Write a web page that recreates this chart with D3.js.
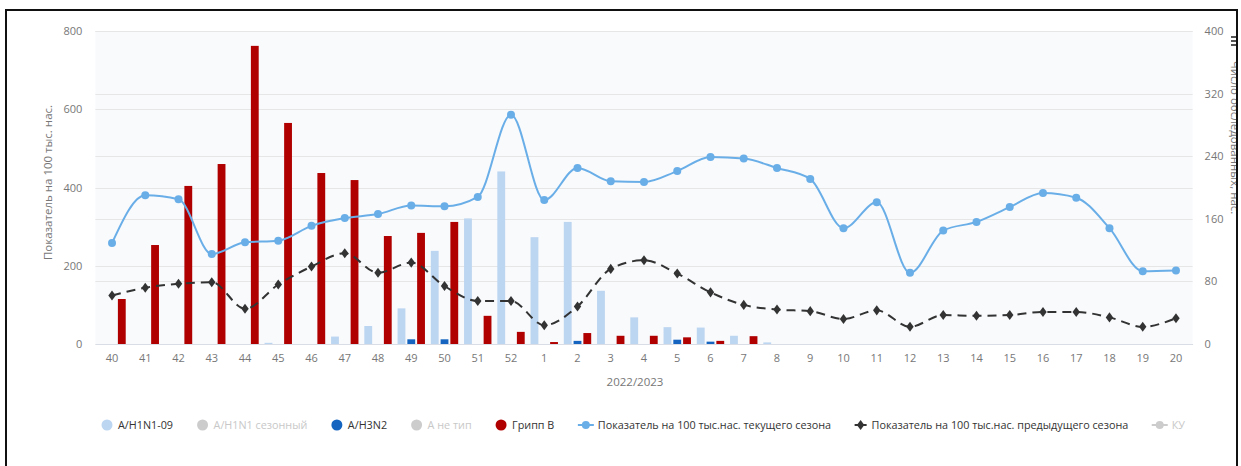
<!DOCTYPE html>
<html><head><meta charset="utf-8">
<script src="https://cdn.jsdelivr.net/npm/d3@7"></script>
<style>
html,body{margin:0;padding:0;background:#fff;}
svg{display:block;font-family:"Open Sans",sans-serif;}
</style></head>
<body><svg id="c" width="1241" height="466"></svg>
<script>
const weeks = ["40","41","42","43","44","45","46","47","48","49","50","51","52","1","2","3","4","5","6","7","8","9","10","11","12","13","14","15","16","17","18","19","20"];
const h1n109 = [0,0,0,0,0,3,0,19,46,91,238,321,441,273,312,136,68,43,42,21,4,0,0,0,0,0,0,0,0,0,0,0,0];
const h3n2   = [0,0,0,0,0,0,0,0,0,12,12,0,0,0,8,0,0,11,6,0,0,0,0,0,0,0,0,0,0,0,0,0,0];
const fluB   = [115,253,404,460,762,565,437,419,276,284,312,72,31,5,28,21,21,17,8,20,0,0,0,0,0,0,0,0,0,0,0,0,0];
const curSeason  = [129,190,185,115,130,132,151,161,166,177,176,188,293,184,225,208,207,221,239,237,225,211,148,181,91,145,156,175,193,187,148,93,94];
const prevSeason = [62,72,77,79,45,76,99,116,91,104,74,55,55,24,48,96,107,90,66,50,44,42,32,43,22,37,36,37,41,41,34,22,33];
const leftTicks = [0,200,400,600,800];
const rightTicks = [0,80,160,240,320,400];
const legendItems = [
  {name:"A/H1N1-09", type:"col", color:"#bcd5f0", hidden:false},
  {name:"A/H1N1 сезонный", type:"col", color:"#cccccc", hidden:true},
  {name:"A/H3N2", type:"col", color:"#1565c0", hidden:false},
  {name:"А не тип", type:"col", color:"#cccccc", hidden:true},
  {name:"Грипп B", type:"col", color:"#b00000", hidden:false},
  {name:"Показатель на 100 тыс.нас. текущего сезона", type:"line", color:"#6aaee8", hidden:false},
  {name:"Показатель на 100 тыс.нас. предыдущего сезона", type:"dash", color:"#333333", hidden:false},
  {name:"КУ", type:"line", color:"#cccccc", hidden:true}
];

const svg = d3.select("#c");
svg.append("defs").append("clipPath").attr("id","clipAll")
  .append("rect").attr("x",0).attr("y",0).attr("width",1236).attr("height",466);
const root = svg.append("g").attr("clip-path","url(#clipAll)");

const L = 95.4, R = 1192.6, T = 31, B = 344;
const x = d3.scaleBand().domain(weeks).range([L,R]).paddingInner(0).paddingOuter(0);
const yL = d3.scaleLinear().domain([0,800]).range([B,T]);
const yR = d3.scaleLinear().domain([0,400]).range([B,T]);

root.append("rect").attr("x",L).attr("y",T).attr("width",R-L).attr("height",B-T).attr("fill","#f8fafc");

// gridlines
root.append("g").selectAll("line").data(leftTicks).join("line")
  .attr("x1",L).attr("x2",R).attr("y1",d=>Math.round(yL(d))+0.5).attr("y2",d=>Math.round(yL(d))+0.5)
  .attr("stroke","#e6e6e6");
root.append("g").selectAll("line").data(rightTicks).join("line")
  .attr("x1",L).attr("x2",R).attr("y1",d=>Math.round(yR(d))+0.5).attr("y2",d=>Math.round(yR(d))+0.5)
  .attr("stroke","#e6e6e6");

// axes labels
const axL = root.append("g").attr("transform",`translate(${L-13},0)`)
  .call(d3.axisLeft(yL).tickValues(leftTicks).tickSize(0).tickPadding(0));
axL.select(".domain").remove();
axL.selectAll("text").attr("fill","#777").attr("font-size",11).attr("font-family","Open Sans");

const axR = root.append("g").attr("transform",`translate(${R+12},0)`)
  .call(d3.axisRight(yR).tickValues(rightTicks).tickSize(0).tickPadding(0));
axR.select(".domain").remove();
axR.selectAll("text").attr("fill","#777").attr("font-size",11).attr("font-family","Open Sans");

const axB = root.append("g").attr("transform",`translate(0,${B})`)
  .call(d3.axisBottom(x).tickSize(0).tickPadding(10));
axB.select(".domain").attr("stroke","#d8dde6");
axB.selectAll("text").attr("fill","#777").attr("font-size",11).attr("font-family","Open Sans");

root.append("text").attr("x",635).attr("y",386).attr("text-anchor","middle")
  .attr("fill","#777").attr("font-size",11.5).text("2022/2023");

root.append("text").attr("transform",`translate(52,${(T+B)/2-5}) rotate(-90)`).attr("text-anchor","middle")
  .attr("fill","#777").attr("font-size",11.5).text("Показатель на 100 тыс. нас.");
root.append("text").attr("transform",`translate(1231,${(T+B)/2-50}) rotate(90)`).attr("text-anchor","middle")
  .attr("fill","#777").attr("font-size",11.5).text("Число обследованных, нас.");

// bars
const sub = d3.scaleBand().domain(["h1","h3","b"]).range([0,x.bandwidth()]).paddingInner(0.2).paddingOuter(0.3);
const barSeries = [
  {key:"h1", data:h1n109, color:"#bcd5f0"},
  {key:"h3", data:h3n2, color:"#1565c0"},
  {key:"b", data:fluB, color:"#b00000"}
];
barSeries.forEach(s=>{
  root.append("g").selectAll("rect").data(s.data.map((v,i)=>({v,w:weeks[i]})).filter(d=>d.v>0)).join("rect")
    .attr("x",d=>x(d.w)+sub(s.key)).attr("width",sub.bandwidth())
    .attr("y",d=>yL(d.v)).attr("height",d=>B-yL(d.v)).attr("fill",s.color);
});

// lines
const pts = arr => arr.map((v,i)=>[x(weeks[i])+x.bandwidth()/2, yR(v)]);
const line = d3.line().curve(d3.curveMonotoneX);
root.append("path").attr("d",line(pts(prevSeason))).attr("fill","none").attr("stroke","#333")
  .attr("stroke-width",2).attr("stroke-dasharray","9,6");
root.append("g").selectAll("path").data(pts(prevSeason)).join("path")
  .attr("transform",d=>`translate(${d[0]},${d[1]}) scale(1.15,0.9)`)
  .attr("d",d3.symbol(d3.symbolDiamond,36)()).attr("fill","#333");
root.append("path").attr("d",line(pts(curSeason))).attr("fill","none").attr("stroke","#6aaee8")
  .attr("stroke-width",2);
root.append("g").selectAll("circle").data(pts(curSeason)).join("circle")
  .attr("cx",d=>d[0]).attr("cy",d=>d[1]).attr("r",4).attr("fill","#6aaee8");

// legend
const lg = root.append("g").attr("font-size",10.8).attr("font-family","Open Sans");
const ly = 425, legStart = 101, legEnd = 1185;
const groups = legendItems.map(it=>{
  const g = lg.append("g");
  const c = it.hidden ? "#cccccc" : it.color;
  let tx;
  if(it.type==="col"){
    g.append("circle").attr("cx",6).attr("cy",0).attr("r",5.5).attr("fill",c);
    tx = 17;
  } else if(it.type==="dash"){
    g.append("line").attr("x1",0).attr("x2",14).attr("y1",0).attr("y2",0).attr("stroke",c).attr("stroke-width",2)
      .attr("stroke-dasharray","5,2");
    g.append("path").attr("transform","translate(6,0) scale(1.15,0.9)").attr("d",d3.symbol(d3.symbolDiamond,36)()).attr("fill",c);
    tx = 17;
  } else {
    g.append("line").attr("x1",0).attr("x2",16).attr("y1",0).attr("y2",0).attr("stroke",c).attr("stroke-width",2);
    g.append("circle").attr("cx",8).attr("cy",0).attr("r",4).attr("fill",c);
    tx = 20;
  }
  const t = g.append("text").attr("x",tx).attr("y",4).attr("fill",it.hidden?"#c8c8c8":"#333").text(it.name);
  return {g, w: tx + t.node().getComputedTextLength()};
});
const totalW = d3.sum(groups, d=>d.w);
const gap = (legEnd - legStart - totalW) / (groups.length - 1);
let lx = legStart;
groups.forEach(o=>{ o.g.attr("transform",`translate(${lx},${ly})`); lx += o.w + gap; });

// menu icon
[36,40,44].forEach(yy=> root.append("rect").attr("x",1231).attr("y",yy).attr("width",8).attr("height",2).attr("fill","#555"));

// frame
svg.append("path").attr("d","M6,470 V10 H1237 V470").attr("fill","none").attr("stroke","#111").attr("stroke-width",2);
</script></body></html>
